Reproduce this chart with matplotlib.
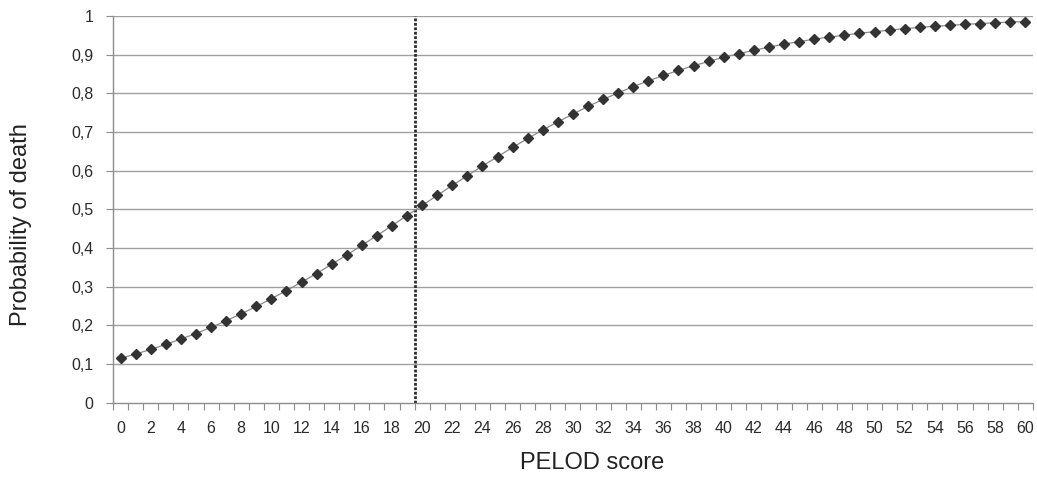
import numpy as np
import matplotlib
matplotlib.use('Agg')
import matplotlib.pyplot as plt

plt.rcParams['font.family'] = ['Liberation Sans', 'DejaVu Sans']

# PELOD score categories 0..60 and probability of death
pelod_score = list(range(0, 61))
prob_death = [
    0.115, 0.126, 0.138, 0.151, 0.165, 0.179, 0.195, 0.212, 0.230, 0.249,
    0.269, 0.290, 0.312, 0.334, 0.358, 0.382, 0.407, 0.432, 0.458, 0.484,
    0.510, 0.536, 0.562, 0.587, 0.612, 0.636, 0.660, 0.683, 0.705, 0.726,
    0.746, 0.766, 0.784, 0.801, 0.817, 0.832, 0.846, 0.859, 0.871, 0.882,
    0.893, 0.902, 0.911, 0.919, 0.927, 0.933, 0.940, 0.945, 0.950, 0.955,
    0.959, 0.963, 0.967, 0.970, 0.973, 0.975, 0.978, 0.980, 0.982, 0.984,
    0.985,
]
y_ticks = [0, 0.1, 0.2, 0.3, 0.4, 0.5, 0.6, 0.7, 0.8, 0.9, 1]
y_tick_labels = ['0', '0,1', '0,2', '0,3', '0,4', '0,5', '0,6', '0,7', '0,8', '0,9', '1']
cutoff = 19.5  # dotted line between categories 19 and 20

fig = plt.figure(figsize=(10.37, 4.79), dpi=100)
ax = fig.add_axes([0.109, 0.159, 0.887, 0.808])

axis_grey = '#8c8c8c'

for y in y_ticks[1:]:
    ax.axhline(y, color='#a0a0a0', lw=1.0, zorder=1)

ax.axvline(cutoff, ymin=0, ymax=1, color='#2a2a2a', lw=2.0, ls=(0, (1, 0.6)), zorder=2)

ax.plot(pelod_score, prob_death, color='#8a8a8a', lw=0.9, zorder=3)
ax.plot(pelod_score, prob_death, ls='none', marker='D', ms=4.8,
        color='#333333', mec='#333333', zorder=4)

ax.set_xlim(-0.5, 60.5)
ax.set_ylim(0, 1)

# category boundaries as ticks, labels every 2 categories
ax.set_xticks(np.arange(-0.5, 61, 1))
ax.set_xticklabels([])
ax.set_xticks(pelod_score[::2], minor=True)
ax.set_xticklabels([str(v) for v in pelod_score[::2]], minor=True)
ax.tick_params(axis='x', which='major', direction='out', length=5, width=0.8, color=axis_grey)
ax.tick_params(axis='x', which='minor', length=0, pad=13, labelsize=11.5, labelcolor='#2a2a2a')

ax.set_yticks(y_ticks)
ax.set_yticklabels(y_tick_labels)
ax.tick_params(axis='y', direction='out', length=5, width=0.8, color=axis_grey,
               pad=9, labelsize=11.5, labelcolor='#2a2a2a')

for side in ['top', 'right']:
    ax.spines[side].set_visible(False)
for side in ['left', 'bottom']:
    ax.spines[side].set_color(axis_grey)
    ax.spines[side].set_linewidth(1.0)

ax.set_xlabel('PELOD score', fontsize=17, color='#222222')
ax.xaxis.set_label_coords(0.521, -0.128)
ax.set_ylabel('Probability of death', fontsize=17, color='#222222')
ax.yaxis.set_label_coords(-0.088, 0.46)

fig.savefig('out.png', dpi=100)
